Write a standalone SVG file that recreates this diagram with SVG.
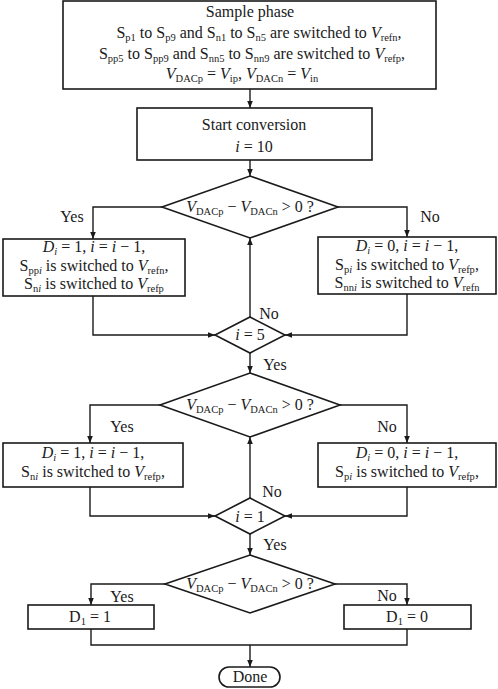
<svg xmlns="http://www.w3.org/2000/svg" width="498" height="689" viewBox="0 0 498 689">
<style>
text{font-family:"Liberation Serif","Times New Roman",serif;font-size:16px;fill:#1a1a1a;text-anchor:middle}
.i{font-style:italic}
.s{font-size:10.5px}
.box{fill:#fff;stroke:#1a1a1a;stroke-width:1.6}
.ln{fill:none;stroke:#1a1a1a;stroke-width:1.4}
</style>
<defs>
<marker id="ah" viewBox="0 0 10 10" refX="10" refY="5" markerWidth="7" markerHeight="7" markerUnits="userSpaceOnUse" orient="auto">
<path d="M0,1 L10,5 L0,9 Z" fill="#1a1a1a"/>
</marker>
</defs>
<rect width="498" height="689" fill="#fff"/>
<g id="connectors" class="ln">
<path d="M250,89 V108" marker-end="url(#ah)"/>
<path d="M250,160 V176" marker-end="url(#ah)"/>
<path d="M162,207 H93 V239" marker-end="url(#ah)"/>
<path d="M338,207 H407 V237" marker-end="url(#ah)"/>
<path d="M93,296 V335 H215" marker-end="url(#ah)"/>
<path d="M407,294 V335 H285" marker-end="url(#ah)"/>
<path d="M250,317 V238" marker-end="url(#ah)"/>
<path d="M250,353 V373" marker-end="url(#ah)"/>
<path d="M160,405 H90 V443" marker-end="url(#ah)"/>
<path d="M340,405 H407 V443" marker-end="url(#ah)"/>
<path d="M90,487 V516 H215" marker-end="url(#ah)"/>
<path d="M407,487 V516 H285" marker-end="url(#ah)"/>
<path d="M250,498 V437" marker-end="url(#ah)"/>
<path d="M250,534 V555" marker-end="url(#ah)"/>
<path d="M165,584 H91 V605" marker-end="url(#ah)"/>
<path d="M335,584 H407 V605" marker-end="url(#ah)"/>
<path d="M91,629 V645 H407 V629"/>
<path d="M250,645 V667" marker-end="url(#ah)"/>
</g>
<g id="labels">
<text x="72" y="222">Yes</text>
<text x="430" y="222">No</text>
<text x="269" y="319">No</text>
<text x="275" y="370">Yes</text>
<text x="122" y="432">Yes</text>
<text x="387" y="432">No</text>
<text x="272" y="497">No</text>
<text x="275" y="550">Yes</text>
<text x="122" y="602">Yes</text>
<text x="387" y="601">No</text>
</g>
<g id="sample">
<rect class="box" x="63" y="1" width="373" height="88"/>
<text x="250" y="17">Sample phase</text>
<text x="259" y="38">S<tspan class="s" dy="3">p1</tspan><tspan dy="-3"> to S</tspan><tspan class="s" dy="3">p9</tspan><tspan dy="-3"> and S</tspan><tspan class="s" dy="3">n1</tspan><tspan dy="-3"> to S</tspan><tspan class="s" dy="3">n5</tspan><tspan dy="-3"> are switched to </tspan><tspan class="i">V</tspan><tspan class="s" dy="3">refn</tspan><tspan dy="-3">,</tspan></text>
<text x="252" y="59">S<tspan class="s" dy="3">pp5</tspan><tspan dy="-3"> to S</tspan><tspan class="s" dy="3">pp9</tspan><tspan dy="-3"> and S</tspan><tspan class="s" dy="3">nn5</tspan><tspan dy="-3"> to S</tspan><tspan class="s" dy="3">nn9</tspan><tspan dy="-3"> are switched to </tspan><tspan class="i">V</tspan><tspan class="s" dy="3">refp</tspan><tspan dy="-3">,</tspan></text>
<text x="242" y="79"><tspan class="i">V</tspan><tspan class="s" dy="3">DACp</tspan><tspan dy="-3"> = </tspan><tspan class="i">V</tspan><tspan class="s" dy="3">ip</tspan><tspan dy="-3">, </tspan><tspan class="i">V</tspan><tspan class="s" dy="3">DACn</tspan><tspan dy="-3"> = </tspan><tspan class="i">V</tspan><tspan class="s" dy="3">in</tspan></text>
</g>
<g id="start">
<rect class="box" x="137" y="108" width="235" height="52"/>
<text x="254" y="130">Start conversion</text>
<text x="254" y="152"><tspan class="i">i</tspan> = 10</text>
</g>
<g id="cmp1">
<polygon class="box" points="250,176 338,207 250,238 162,207"/>
<text x="250" y="212"><tspan class="i">V</tspan><tspan class="s" dy="3">DACp</tspan><tspan dy="-3"> − </tspan><tspan class="i">V</tspan><tspan class="s" dy="3">DACn</tspan><tspan dy="-3"> &gt; 0 ?</tspan></text>
</g>
<g id="yes1">
<rect class="box" x="3" y="239" width="182" height="57"/>
<text x="94" y="252"><tspan class="i">D</tspan><tspan class="s i" dy="3">i</tspan><tspan dy="-3"> = 1, </tspan><tspan class="i">i</tspan> = <tspan class="i">i</tspan> − 1,</text>
<text x="94" y="271">S<tspan class="s" dy="3">pp</tspan><tspan class="s i">i</tspan><tspan dy="-3"> is switched to </tspan><tspan class="i">V</tspan><tspan class="s" dy="3">refn</tspan><tspan dy="-3">,</tspan></text>
<text x="94" y="289">S<tspan class="s" dy="3">n</tspan><tspan class="s i">i</tspan><tspan dy="-3"> is switched to </tspan><tspan class="i">V</tspan><tspan class="s" dy="3">refp</tspan></text>
</g>
<g id="no1">
<rect class="box" x="318" y="237" width="178" height="57"/>
<text x="407" y="251"><tspan class="i">D</tspan><tspan class="s i" dy="3">i</tspan><tspan dy="-3"> = 0, </tspan><tspan class="i">i</tspan> = <tspan class="i">i</tspan> − 1,</text>
<text x="407" y="270">S<tspan class="s" dy="3">p</tspan><tspan class="s i">i</tspan><tspan dy="-3"> is switched to </tspan><tspan class="i">V</tspan><tspan class="s" dy="3">refp</tspan><tspan dy="-3">,</tspan></text>
<text x="407" y="288">S<tspan class="s" dy="3">nn</tspan><tspan class="s i">i</tspan><tspan dy="-3"> is switched to </tspan><tspan class="i">V</tspan><tspan class="s" dy="3">refn</tspan></text>
</g>
<g id="check5">
<polygon class="box" points="250,317 285,335 250,353 215,335"/>
<text x="250" y="340"><tspan class="i">i</tspan> = 5</text>
</g>
<g id="cmp2">
<polygon class="box" points="250,373 340,405 250,437 160,405"/>
<text x="250" y="410"><tspan class="i">V</tspan><tspan class="s" dy="3">DACp</tspan><tspan dy="-3"> − </tspan><tspan class="i">V</tspan><tspan class="s" dy="3">DACn</tspan><tspan dy="-3"> &gt; 0 ?</tspan></text>
</g>
<g id="yes2">
<rect class="box" x="3" y="443" width="180" height="44"/>
<text x="93" y="458"><tspan class="i">D</tspan><tspan class="s i" dy="3">i</tspan><tspan dy="-3"> = 1, </tspan><tspan class="i">i</tspan> = <tspan class="i">i</tspan> − 1,</text>
<text x="93" y="477">S<tspan class="s" dy="3">n</tspan><tspan class="s i">i</tspan><tspan dy="-3"> is switched to </tspan><tspan class="i">V</tspan><tspan class="s" dy="3">refp</tspan><tspan dy="-3">,</tspan></text>
</g>
<g id="no2">
<rect class="box" x="318" y="443" width="178" height="44"/>
<text x="407" y="458"><tspan class="i">D</tspan><tspan class="s i" dy="3">i</tspan><tspan dy="-3"> = 0, </tspan><tspan class="i">i</tspan> = <tspan class="i">i</tspan> − 1,</text>
<text x="407" y="477">S<tspan class="s" dy="3">p</tspan><tspan class="s i">i</tspan><tspan dy="-3"> is switched to </tspan><tspan class="i">V</tspan><tspan class="s" dy="3">refp</tspan><tspan dy="-3">,</tspan></text>
</g>
<g id="check1">
<polygon class="box" points="250,498 285,516 250,534 215,516"/>
<text x="250" y="522"><tspan class="i">i</tspan> = 1</text>
</g>
<g id="cmp3">
<polygon class="box" points="250,555 335,584 250,613 165,584"/>
<text x="250" y="589"><tspan class="i">V</tspan><tspan class="s" dy="3">DACp</tspan><tspan dy="-3"> − </tspan><tspan class="i">V</tspan><tspan class="s" dy="3">DACn</tspan><tspan dy="-3"> &gt; 0 ?</tspan></text>
</g>
<g id="d1one">
<rect class="box" x="28" y="605" width="126" height="24"/>
<text x="90" y="622">D<tspan class="s" dy="3">1</tspan><tspan dy="-3"> = 1</tspan></text>
</g>
<g id="d1zero">
<rect class="box" x="344" y="605" width="127" height="24"/>
<text x="407" y="622">D<tspan class="s" dy="3">1</tspan><tspan dy="-3"> = 0</tspan></text>
</g>
<g id="done">
<rect class="box" x="219" y="667" width="61" height="20" rx="10" ry="10"/>
<text x="250" y="682">Done</text>
</g>
</svg>
